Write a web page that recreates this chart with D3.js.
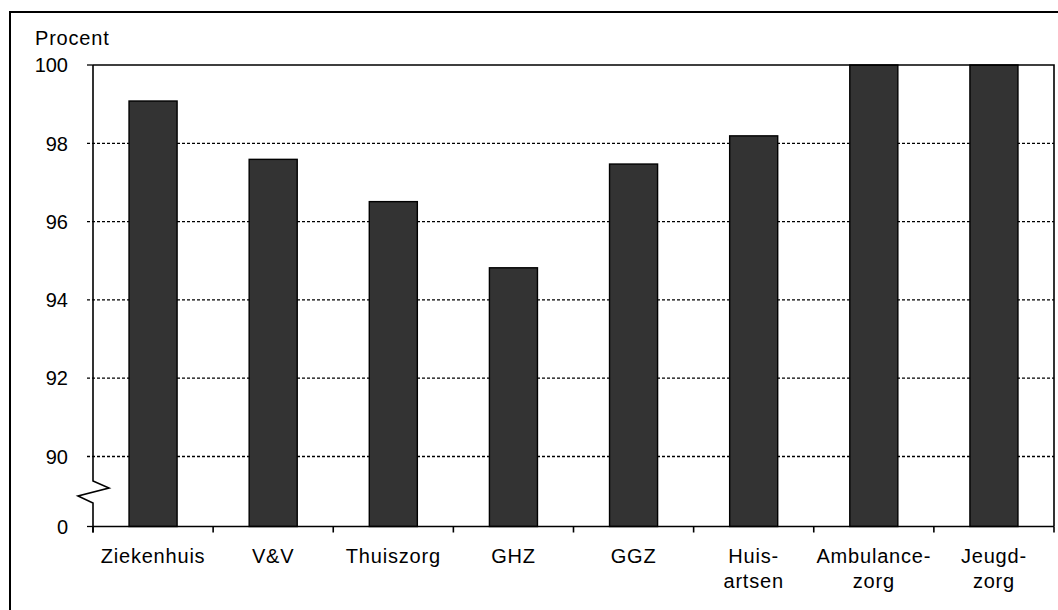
<!DOCTYPE html>
<html lang="nl">
<head>
<meta charset="UTF-8">
<title>Procent per sector</title>
<style>
    body { margin: 0; background: #fff; }
    svg { display: block; font-family: "Liberation Sans", Arial, sans-serif; }
    .bar { fill: #333333; stroke: #000; stroke-width: 1.4; }
    .grid { stroke: #000; stroke-width: 1.3; stroke-dasharray: 3 2; }
    .lbl { font-size: 20px; fill: #000; }
    .word { letter-spacing: 0.8px; }
</style>
</head>
<body>
<svg id="chart" width="1058" height="610"></svg>
<script src="https://d3js.org/d3.v7.min.js"></script>
<script>
    // data
    const categories = [["Ziekenhuis"], ["V&V"], ["Thuiszorg"], ["GHZ"], ["GGZ"],
                        ["Huis-", "artsen"], ["Ambulance-", "zorg"], ["Jeugd-", "zorg"]];
    const values = [99.08, 97.59, 96.51, 94.82, 97.47, 98.19, 100, 100];
    const yTicks = [0, 90, 92, 94, 96, 98, 100];
    const gridTicks = [90, 92, 94, 96, 98];

    const W = 1058, H = 610;
    const m = { left: 93, right: 1054, top: 65, bottom: 526.5 };

    const svg = d3.select("#chart");

    // outer frame, cut off at right and bottom
    svg.append("rect")
        .attr("x", 10).attr("y", 12)
        .attr("width", W + 20).attr("height", H + 20)
        .attr("fill", "none").attr("stroke", "#000").attr("stroke-width", 2);

    const x = d3.scaleBand()
        .domain(d3.range(categories.length))
        .range([m.left, m.right])
        .paddingInner(0.6).paddingOuter(0.3);

    // broken axis: 0 sits right below 90
    const y = d3.scaleLinear()
        .domain([0, 90, 100])
        .range([m.bottom, m.bottom - 70, m.top]);

    // dotted gridlines (start at the tick)
    svg.append("g").selectAll("line")
        .data(gridTicks)
        .join("line")
        .attr("class", "grid")
        .attr("x1", m.left - 6).attr("x2", m.right)
        .attr("y1", d => y(d)).attr("y2", d => y(d));

    // y tick labels
    svg.append("g").selectAll("text")
        .data(yTicks)
        .join("text")
        .attr("class", "lbl")
        .attr("x", m.left - 25)
        .attr("y", d => y(d))
        .attr("dy", "0.36em")
        .attr("text-anchor", "end")
        .text(d => d);

    // short solid tick for 100 and 0
    svg.append("g").selectAll("line")
        .data([0, 100])
        .join("line")
        .attr("x1", m.left - 6).attr("x2", m.left)
        .attr("y1", d => y(d)).attr("y2", d => y(d))
        .attr("stroke", "#000").attr("stroke-width", 1.3);

    svg.append("text")
        .attr("class", "lbl word")
        .attr("x", 35).attr("y", 45)
        .text("Procent");

    // bars
    svg.append("g").selectAll("rect")
        .data(values)
        .join("rect")
        .attr("class", "bar")
        .attr("x", (d, i) => x(i))
        .attr("width", x.bandwidth())
        .attr("y", d => y(d))
        .attr("height", d => y(0) - y(d));

    // plot frame: top and right solid
    svg.append("path")
        .attr("d", `M${m.left},${y(100)}H${m.right}V${y(0)}`)
        .attr("fill", "none").attr("stroke", "#000").attr("stroke-width", 1.6);

    // y axis with zigzag break
    const b0 = y(90) + 24.5, b1 = y(90) + 46.5;
    const bm = (b0 + b1) / 2;
    svg.append("path")
        .attr("d", `M${m.left},${y(100)}V${b0}L${m.left + 16},${bm - 4}L${m.left - 15},${bm + 4}L${m.left},${b1}V${y(0) + 6}`)
        .attr("fill", "none").attr("stroke", "#000").attr("stroke-width", 1.6);

    // x axis
    svg.append("line")
        .attr("x1", m.left).attr("x2", m.right)
        .attr("y1", y(0)).attr("y2", y(0))
        .attr("stroke", "#000").attr("stroke-width", 1.6);

    const step = x.step();
    const bounds = d3.range(categories.length + 1).map(i => m.left + i * step);
    svg.append("g").selectAll("line")
        .data(bounds)
        .join("line")
        .attr("x1", d => d).attr("x2", d => d)
        .attr("y1", y(0)).attr("y2", y(0) + 6)
        .attr("stroke", "#000").attr("stroke-width", 1.6);

    // category labels
    const lab = svg.append("g").selectAll("text")
        .data(categories)
        .join("text")
        .attr("class", "lbl word")
        .attr("text-anchor", "middle")
        .attr("x", (d, i) => m.left + (i + 0.5) * step)
        .attr("y", y(0) + 36.5);
    lab.selectAll("tspan")
        .data(d => d)
        .join("tspan")
        .attr("x", function () { return this.parentNode.getAttribute("x"); })
        .attr("dy", (d, i) => i === 0 ? 0 : 25)
        .text(d => d);
</script>
</body>
</html>
